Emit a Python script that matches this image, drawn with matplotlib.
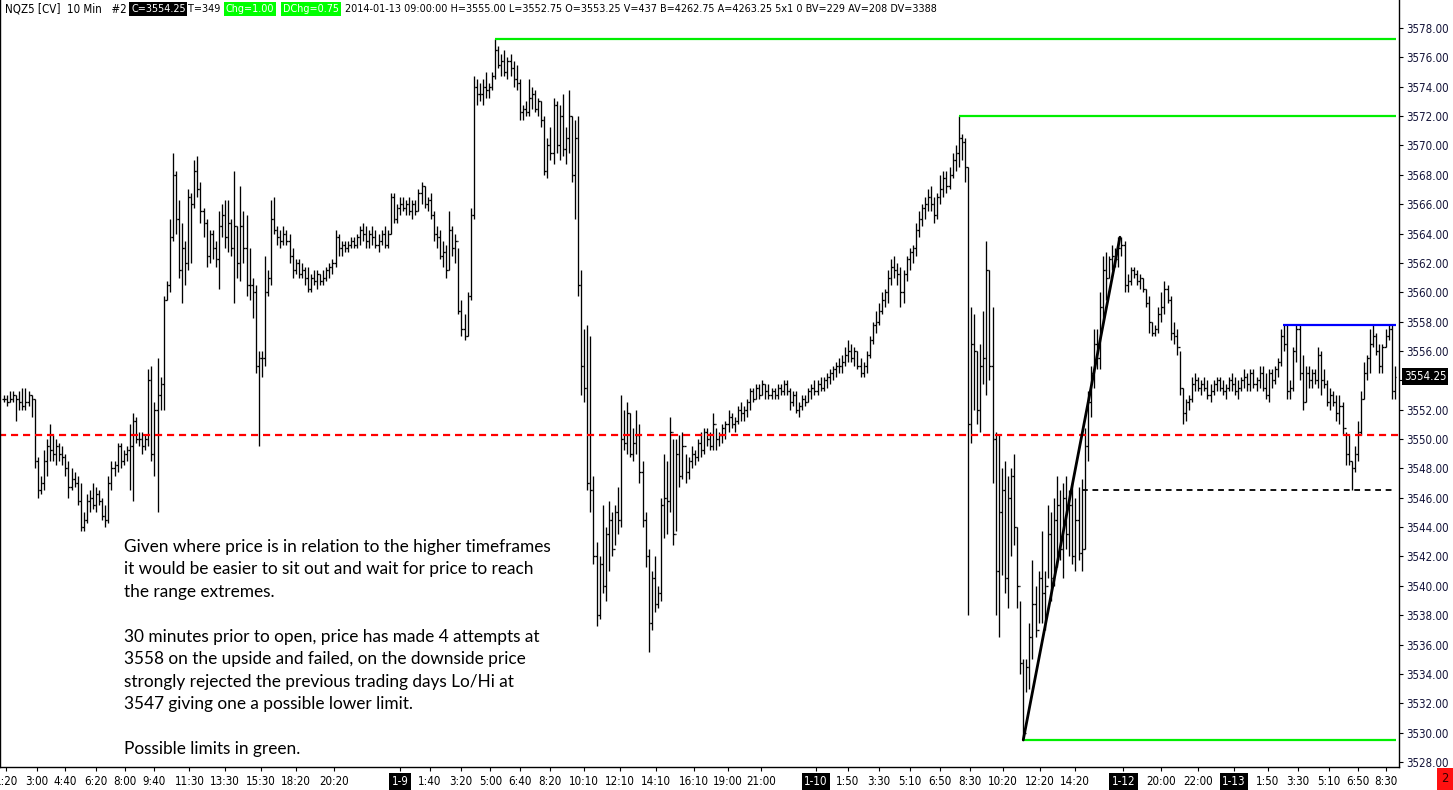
import numpy as np
import matplotlib
matplotlib.use("Agg")
import matplotlib.pyplot as plt
from matplotlib.collections import LineCollection
import matplotlib.transforms as mtransforms

# ---------------- data (10-minute NQ bars) ----------------
highs = [
 3553.0,3553.0,3553.25,3553.25,3553.0,3553.25,3553.5,3553.5,3553.25,3553.0,
 3552.75,3548.75,3547.5,3549.25,3550.0,3551.0,3550.25,3550.0,3549.75,3549.5,
 3549.0,3548.5,3548.0,3547.75,3547.5,3547.0,3545.0,3546.25,3546.5,3547.0,
 3546.75,3546.5,3546.0,3545.5,3547.5,3548.5,3548.5,3549.75,3549.75,3549.25,
 3549.5,3551.0,3551.75,3551.5,3550.5,3550.5,3550.25,3554.75,3555.0,3552.5,
 3555.5,3554.25,3559.75,3560.75,3565.0,3569.5,3568.25,3566.25,3564.75,3563.5,
 3567.0,3566.75,3569.0,3569.25,3567.5,3565.75,3565.0,3564.25,3564.25,3563.5,
 3565.5,3566.0,3566.25,3566.25,3565.0,3568.25,3564.5,3567.25,3565.5,3565.25,
 3563.0,3561.0,3560.5,3556.0,3556.0,3562.5,3561.5,3566.25,3566.5,3564.5,
 3564.25,3564.5,3564.25,3564.0,3563.0,3562.25,3562.25,3562.0,3561.75,3561.75,
 3561.25,3561.5,3561.5,3561.25,3561.5,3561.75,3562.0,3562.25,3564.25,3564.0,
 3563.5,3563.5,3563.5,3563.75,3563.75,3564.0,3564.5,3564.75,3564.5,3564.25,
 3564.5,3564.25,3564.0,3564.25,3564.5,3564.25,3566.75,3566.75,3566.0,3566.5,
 3566.5,3566.25,3566.5,3566.25,3566.25,3567.0,3567.5,3567.25,3566.5,3566.75,
 3565.5,3564.5,3564.25,3563.5,3563.25,3565.5,3564.5,3564.0,3563.0,3559.5,
 3558.5,3560.0,3565.75,3574.75,3574.5,3574.25,3574.5,3575.0,3574.25,3575.0,
 3577.25,3576.75,3576.25,3576.5,3576.0,3576.25,3575.75,3575.5,3574.5,3572.75,
 3573.0,3574.5,3574.0,3573.75,3573.25,3573.0,3572.0,3570.5,3571.25,3573.25,
 3573.0,3572.75,3573.5,3571.25,3573.75,3572.0,3571.75,3572.0,3561.5,3557.5,
 3557.75,3557.0,3547.5,3543.0,3542.0,3545.5,3544.0,3545.75,3545.0,3545.5,
 3546.75,3553.0,3552.0,3552.5,3551.75,3550.75,3552.0,3551.0,3548.5,3545.0,
 3542.5,3541.0,3542.0,3540.0,3546.0,3549.0,3548.5,3551.5,3550.0,3550.0,
 3550.25,3550.5,3549.0,3548.75,3549.5,3549.25,3550.0,3550.5,3550.75,3550.75,
 3550.5,3551.75,3550.75,3550.5,3551.0,3551.25,3552.0,3551.75,3551.5,3552.25,
 3552.5,3552.25,3552.75,3553.5,3553.5,3553.75,3553.75,3554.0,3553.75,3553.75,
 3553.5,3553.5,3553.75,3553.75,3554.0,3554.0,3553.5,3553.25,3553.25,3552.5,
 3553.0,3553.0,3553.5,3553.75,3554.0,3554.0,3554.25,3554.25,3554.5,3554.75,
 3555.0,3555.25,3555.5,3555.75,3556.25,3556.75,3556.5,3556.25,3556.0,3555.5,
 3555.25,3556.0,3557.0,3558.0,3558.75,3559.25,3560.0,3560.25,3561.5,3562.25,
 3562.5,3562.0,3561.75,3561.5,3562.5,3563.0,3563.25,3564.75,3565.5,3566.0,
 3566.5,3567.0,3567.25,3566.5,3566.75,3568.0,3568.25,3568.25,3568.5,3569.5,
 3570.0,3572.0,3570.75,3570.5,3568.5,3559.0,3558.5,3556.0,3556.5,3558.75,
 3563.5,3561.5,3559.0,3550.5,3550.25,3548.0,3548.5,3547.5,3548.0,3549.0,
 3544.0,3539.0,3535.0,3535.0,3537.5,3541.75,3540.0,3541.0,3543.75,3541.0,
 3545.5,3545.0,3546.0,3547.5,3546.5,3547.0,3547.5,3546.5,3547.0,3546.0,
 3546.75,3547.25,3550.75,3553.25,3555.0,3557.5,3557.5,3560.0,3562.5,3562.75,
 3562.5,3563.25,3563.0,3563.75,3563.75,3563.5,3561.25,3561.75,3561.75,3561.5,
 3561.25,3561.0,3560.25,3559.75,3558.0,3557.75,3559.0,3560.0,3560.75,3560.5,
 3559.75,3558.0,3557.5,3556.0,3553.5,3552.75,3553.0,3554.25,3554.5,3554.25,
 3554.0,3554.25,3554.0,3553.75,3554.0,3554.25,3554.25,3554.0,3553.75,3554.25,
 3554.5,3554.25,3554.0,3554.25,3554.75,3554.5,3554.75,3554.75,3554.25,3555.0,
 3555.0,3554.5,3554.75,3554.75,3555.0,3555.5,3557.5,3557.75,3557.75,3554.0,
 3556.25,3557.75,3557.75,3555.75,3555.0,3555.0,3554.75,3554.75,3556.25,3556.0,
 3554.75,3554.0,3553.5,3553.25,3553.0,3553.0,3552.5,3550.5,3550.25,3548.5,
 3549.5,3551.25,3553.25,3555.25,3555.75,3557.5,3557.75,3557.25,3556.5,3556.5,
 3557.5,3557.75,3557.75,3555.0]

lows = [
 3552.5,3552.25,3552.5,3552.5,3551.25,3552.0,3552.0,3552.0,3552.25,3551.5,
 3548.0,3546.0,3546.25,3546.5,3547.5,3548.5,3548.5,3548.25,3548.5,3548.25,
 3547.5,3546.0,3546.5,3546.75,3545.5,3543.75,3543.75,3544.25,3545.0,3545.25,
 3545.0,3545.5,3544.5,3544.0,3544.25,3546.5,3547.5,3547.75,3548.0,3548.25,
 3548.5,3546.5,3545.75,3549.75,3549.5,3549.0,3549.25,3549.5,3548.5,3547.5,
 3545.0,3552.0,3552.0,3559.5,3560.0,3563.5,3564.0,3561.0,3559.25,3560.5,
 3561.5,3562.0,3565.75,3566.5,3564.75,3563.75,3561.75,3562.0,3562.25,3561.75,
 3560.25,3563.75,3563.0,3562.75,3562.5,3559.25,3561.0,3560.75,3562.0,3559.75,
 3559.5,3558.25,3554.5,3549.5,3554.25,3555.0,3559.75,3560.5,3564.0,3563.25,
 3563.0,3563.25,3563.25,3562.0,3561.0,3561.25,3561.0,3561.0,3560.5,3560.0,
 3560.0,3560.5,3560.25,3560.5,3560.5,3560.75,3561.0,3561.25,3561.75,3562.5,
 3562.5,3562.75,3562.75,3563.0,3563.0,3563.0,3563.25,3563.5,3563.0,3563.0,
 3563.25,3563.0,3562.75,3563.25,3563.0,3563.0,3564.0,3564.75,3564.75,3565.25,
 3565.5,3565.25,3565.25,3565.0,3565.25,3565.5,3566.0,3565.75,3565.5,3565.0,
 3563.5,3563.0,3562.25,3561.75,3561.0,3561.5,3562.5,3562.0,3558.5,3557.0,
 3556.75,3557.0,3559.5,3565.0,3572.75,3573.0,3572.75,3573.25,3573.25,3573.75,
 3574.5,3575.25,3574.75,3574.75,3574.5,3574.75,3574.0,3573.75,3571.75,3571.75,
 3572.0,3572.0,3572.5,3572.25,3572.0,3571.25,3568.0,3567.75,3569.0,3568.75,
 3569.5,3569.0,3569.25,3568.75,3569.5,3567.5,3565.0,3559.75,3553.0,3552.5,
 3546.5,3545.0,3541.5,3537.25,3537.75,3539.5,3539.0,3541.0,3542.0,3542.75,
 3543.5,3544.0,3549.25,3549.0,3548.75,3548.5,3549.0,3547.0,3544.0,3541.25,
 3535.5,3537.0,3538.25,3538.5,3539.0,3543.25,3543.5,3545.0,3542.75,3543.75,
 3546.75,3547.25,3547.0,3547.25,3548.0,3548.25,3548.5,3548.75,3549.0,3549.5,
 3549.25,3549.25,3549.25,3549.5,3549.75,3550.0,3550.5,3550.75,3550.5,3551.0,
 3551.25,3551.25,3551.5,3552.0,3552.5,3552.75,3552.75,3553.0,3552.75,3552.75,
 3552.75,3552.75,3552.75,3553.0,3553.0,3553.0,3552.0,3552.25,3551.75,3551.5,
 3552.0,3552.25,3552.5,3552.75,3553.0,3553.0,3553.25,3553.25,3553.5,3553.75,
 3554.0,3554.25,3554.5,3554.5,3555.0,3555.25,3555.25,3555.0,3554.75,3554.25,
 3554.25,3554.5,3555.5,3556.5,3557.25,3557.75,3558.5,3559.0,3559.25,3560.5,
 3561.0,3560.5,3559.0,3559.25,3560.75,3561.5,3562.0,3562.5,3563.75,3564.5,
 3565.0,3565.5,3565.5,3564.75,3565.0,3566.0,3566.5,3566.75,3567.0,3567.75,
 3568.25,3568.5,3569.0,3567.5,3538.0,3549.75,3552.0,3551.0,3550.5,3553.75,
 3553.0,3554.0,3547.0,3538.0,3536.5,3540.75,3539.5,3538.5,3542.0,3542.75,
 3538.5,3534.0,3529.5,3532.75,3533.0,3535.0,3536.5,3537.5,3537.5,3537.0,
 3540.5,3539.0,3540.0,3541.25,3541.75,3540.5,3542.5,3542.0,3541.5,3541.0,
 3541.75,3541.0,3542.5,3548.5,3551.5,3553.5,3554.75,3554.75,3558.0,3559.5,
 3561.0,3561.5,3561.75,3561.75,3562.5,3560.0,3560.0,3560.5,3561.0,3560.5,
 3560.25,3560.0,3559.0,3557.25,3557.0,3557.0,3557.25,3558.0,3558.5,3559.25,
 3556.75,3556.5,3555.75,3553.0,3551.0,3551.25,3552.0,3552.5,3553.25,3553.25,
 3553.0,3553.25,3552.75,3552.5,3553.0,3553.25,3553.25,3553.0,3552.75,3553.25,
 3553.25,3553.0,3552.75,3553.25,3553.5,3553.25,3553.25,3553.5,3553.25,3553.5,
 3553.25,3552.75,3552.5,3553.5,3553.75,3554.25,3555.0,3556.0,3552.75,3552.75,
 3553.25,3555.25,3554.0,3552.0,3552.5,3553.5,3553.5,3553.75,3553.5,3553.0,
 3553.5,3552.25,3552.0,3552.25,3551.25,3551.0,3550.25,3548.25,3548.25,3546.5,
 3547.75,3548.5,3550.25,3552.75,3554.0,3554.5,3556.25,3555.75,3554.5,3554.5,
 3556.25,3556.75,3552.75,3552.75]

closes = [
 3552.75,3552.5,3552.75,3553.0,3552.75,3552.5,3552.25,3552.5,3553.0,3552.75,
 3548.5,3546.5,3547.0,3548.5,3549.5,3549.25,3549.0,3549.5,3549.0,3548.75,
 3548.0,3546.75,3547.25,3547.0,3545.75,3544.0,3544.5,3545.75,3546.0,3545.5,
 3546.25,3545.75,3544.75,3544.5,3547.0,3548.0,3548.25,3549.5,3548.5,3549.0,
 3549.25,3549.5,3551.25,3550.0,3550.0,3549.5,3550.0,3554.0,3549.0,3552.0,
 3553.0,3553.75,3559.5,3560.5,3563.75,3568.0,3565.0,3561.5,3563.0,3562.0,
 3566.5,3566.0,3568.25,3567.0,3565.5,3564.75,3562.5,3564.0,3563.0,3562.25,
 3564.5,3565.25,3563.75,3564.75,3563.0,3564.5,3562.0,3564.5,3563.0,3560.5,
 3560.5,3560.0,3555.0,3555.5,3555.5,3560.0,3561.0,3565.0,3564.25,3563.75,
 3563.5,3564.0,3563.5,3562.5,3561.5,3562.0,3561.25,3561.5,3561.0,3560.25,
 3561.0,3560.75,3561.25,3560.75,3561.0,3561.5,3561.75,3562.0,3563.75,3563.0,
 3563.25,3563.0,3563.25,3563.5,3563.25,3563.75,3564.25,3564.0,3563.5,3564.0,
 3563.75,3563.25,3563.5,3564.0,3563.25,3564.0,3566.5,3565.0,3565.75,3566.0,
 3565.75,3566.0,3565.5,3566.0,3565.5,3566.75,3567.25,3566.0,3566.25,3565.25,
 3564.0,3563.75,3562.5,3562.75,3561.5,3564.25,3563.0,3563.5,3558.75,3557.5,
 3557.0,3559.75,3565.25,3574.0,3573.5,3573.5,3574.0,3573.75,3574.0,3574.75,
 3576.5,3575.5,3575.75,3575.0,3575.75,3575.25,3574.5,3574.25,3572.25,3572.5,
 3572.25,3573.25,3573.5,3572.5,3573.0,3571.75,3568.25,3570.0,3569.5,3572.75,
 3570.0,3572.0,3569.75,3570.5,3572.0,3568.0,3570.5,3560.5,3555.0,3553.5,
 3547.0,3546.5,3542.0,3538.0,3541.5,3540.0,3543.5,3544.5,3542.5,3545.0,
 3544.5,3550.0,3549.75,3551.75,3549.0,3549.75,3550.25,3547.75,3544.5,3542.0,
 3537.5,3540.5,3538.75,3539.5,3545.5,3546.0,3545.75,3550.5,3543.5,3549.0,
 3547.5,3549.5,3547.75,3548.5,3549.0,3548.75,3549.75,3549.25,3550.5,3550.0,
 3549.5,3551.0,3550.0,3550.25,3550.75,3551.0,3551.5,3551.0,3551.25,3552.0,
 3551.75,3552.0,3552.5,3553.25,3552.75,3553.5,3553.0,3553.75,3553.25,3553.0,
 3553.25,3553.0,3553.5,3553.25,3553.75,3553.25,3552.5,3553.0,3552.0,3552.25,
 3552.75,3552.5,3553.25,3553.5,3553.25,3553.75,3553.5,3554.0,3554.25,3554.5,
 3554.75,3555.0,3555.0,3555.25,3555.75,3556.0,3555.5,3556.0,3555.0,3554.5,
 3555.0,3555.75,3556.75,3557.75,3558.0,3558.75,3559.5,3560.0,3561.0,3561.75,
 3561.5,3561.25,3560.0,3561.25,3562.25,3562.75,3563.0,3564.25,3565.0,3565.75,
 3566.0,3566.5,3566.0,3565.25,3566.5,3567.0,3567.75,3567.25,3568.0,3569.0,
 3569.5,3570.5,3570.25,3568.5,3551.0,3556.5,3556.0,3552.0,3555.0,3555.5,
 3561.5,3555.0,3550.0,3541.0,3545.0,3546.5,3540.5,3546.0,3547.5,3544.0,
 3540.0,3534.75,3530.0,3534.5,3536.5,3538.75,3537.0,3540.5,3539.5,3540.0,
 3543.5,3540.5,3544.5,3545.5,3542.5,3546.0,3543.5,3545.5,3542.0,3544.5,
 3542.25,3542.5,3549.5,3552.5,3554.5,3556.5,3555.5,3559.0,3561.5,3561.0,
 3562.25,3562.5,3562.25,3563.0,3563.25,3560.5,3560.75,3561.5,3561.25,3560.75,
 3561.0,3560.25,3559.25,3558.0,3557.25,3557.5,3558.5,3559.0,3560.25,3559.5,
 3557.25,3557.0,3556.25,3553.5,3551.75,3552.5,3552.75,3553.75,3554.0,3553.5,
 3553.75,3553.5,3553.0,3553.25,3553.75,3554.0,3553.5,3553.25,3553.5,3554.0,
 3553.75,3553.25,3553.5,3554.0,3554.25,3553.75,3554.5,3553.75,3554.0,3554.5,
 3553.5,3553.0,3554.5,3554.0,3554.75,3555.25,3557.0,3556.5,3553.25,3553.5,
 3556.0,3557.5,3554.5,3552.5,3554.5,3554.0,3554.5,3554.0,3555.75,3554.0,
 3553.75,3552.5,3553.0,3552.5,3551.75,3552.25,3550.75,3549.0,3548.5,3548.0,
 3549.0,3550.5,3552.75,3554.5,3555.5,3556.5,3557.0,3556.0,3555.0,3556.25,
 3557.0,3557.5,3553.25,3554.25]

last_open = 3553.25
price_ticks = list(range(3528, 3579, 2))
last_price = 3554.25
range_high = 3577.25      # green
prior_high = 3572.0       # green
range_low = 3529.5        # green
upside_test = 3557.75     # blue
prior_lohi = 3546.5       # black dashed
red_level = 3550.25       # red dashed

time_labels = ["1:20","3:00","4:40","6:20","8:00","9:40","11:30","13:30","15:30","18:20",
               "20:20","1-9","1:40","3:20","5:00","6:40","8:20","10:10","12:10","14:10",
               "16:10","19:00","21:00","1-10","1:50","3:30","5:10","6:50","8:30","10:20",
               "12:20","14:20","1-12","20:00","22:00","1-13","1:50","3:30","5:10","6:50","8:30"]
time_bars = [0.8,10.6,20.0,30.0,39.5,49.0,60.4,71.9,83.6,95.0,
             107.4,129.0,138.6,148.9,158.4,168.2,177.9,188.9,200.7,212.4,
             224.6,235.8,246.7,264.5,274.9,285.0,295.1,304.9,314.7,325.4,
             337.3,348.9,364.6,376.9,388.9,400.6,411.6,421.5,431.5,441.1,450.2]

header_plain1 = "NQZ5 [CV]  10 Min   #2"
header_close = "C=3554.25"
header_t = "T=349"
header_chg = "Chg=1.00"
header_dchg = "DChg=0.75"
header_rest = ("2014-01-13 09:00:00 H=3555.00 L=3552.75 O=3553.25 V=437 B=4262.75 "
               "A=4263.25 5x1 0 BV=229 AV=208 DV=3388")

note_lines = [
    "Given where price is in relation to the higher timeframes",
    "it would be easier to sit out and wait for price to reach",
    "the range extremes.",
    "",
    "30 minutes prior to open, price has made 4 attempts at",
    "3558 on the upside and failed, on the downside price",
    "strongly rejected the previous trading days Lo/Hi at",
    "3547 giving one a possible lower limit.",
    "",
    "Possible limits in green.",
]

# ---------------- figure ----------------
W, H = 1453, 790
fig = plt.figure(figsize=(W / 100, H / 100), dpi=100)
fig.patch.set_facecolor("white")
ax = fig.add_axes([0, 1 - 767 / H, 1399 / W, 767 / H])

n = len(closes)
opens = [closes[0]] + closes[:-1]
opens[-1] = last_open

segs = []
for i in range(n):
    segs.append([(i, lows[i]), (i, highs[i])])
    segs.append([(i - 0.5, opens[i]), (i, opens[i])])
    segs.append([(i, closes[i]), (i + 0.5, closes[i])])
ax.add_collection(LineCollection(segs, colors="black", linewidths=0.95, capstyle="butt"))

# levels
lw_lvl = 1.6
xr = n - 0.7
ax.plot([160, xr], [range_high] * 2, color="#00ee00", lw=lw_lvl, solid_capstyle="butt")
ax.plot([311, xr], [prior_high] * 2, color="#00ee00", lw=lw_lvl, solid_capstyle="butt")
ax.plot([332, xr], [range_low] * 2, color="#00ee00", lw=lw_lvl, solid_capstyle="butt")
ax.plot([416.5, xr], [upside_test] * 2, color="#0000ff", lw=lw_lvl, solid_capstyle="butt")
ax.plot([-2, n + 2], [red_level] * 2, color="#ff0000", lw=1.6, dashes=(3.2, 2.2))
ax.plot([351, xr], [prior_lohi] * 2, color="black", lw=1.3, dashes=(3.2, 2.6))
ax.plot([332, 363.5], [range_low, 3563.75], color="black", lw=2.0, solid_capstyle="round")

# axes limits
ppu = 14.68
ax.set_ylim(3578 - (767 - 28) / ppu, 3578 + 28 / ppu)
ax.set_xlim(-4 / 3.07, (1399 - 4) / 3.07)

ax.spines["top"].set_visible(False)
for s in ["left", "right", "bottom"]:
    ax.spines[s].set_linewidth(1.0)
    ax.spines[s].set_color("black")

axfont = dict(family="DejaVu Sans", stretch="condensed")
ax.yaxis.tick_right()
ax.set_yticks(price_ticks)
ylabels = ["" if abs(v - last_price) < 1.0 else f"{v:.2f}" for v in price_ticks]
ax.set_yticklabels(ylabels, fontdict=axfont)
ax.tick_params(axis="y", direction="out", length=3, width=0.8, labelsize=8.3,
               pad=2.5, colors="black", labelcolor="#15153a")
ax.set_xticks(time_bars)
ax.set_xticklabels(time_labels, fontdict=axfont)
ax.tick_params(axis="x", direction="out", length=3, width=0.8, labelsize=8.3, pad=3)
for lab in ax.get_xticklabels():
    if "-" in lab.get_text():
        lab.set_color("white")
        lab.set_bbox(dict(boxstyle="square,pad=0.22", fc="black", ec="none"))

# current price marker on axis
trans = mtransforms.blended_transform_factory(fig.transFigure, ax.transData)
fig.text(1404 / W, last_price, f"{last_price:.2f}", transform=trans, color="white",
         fontsize=8.3, va="center", ha="left", fontdict=axfont,
         bbox=dict(boxstyle="square,pad=0.15", fc="black", ec="none"))

# header
hy = 1 - 9 / H
hfont = dict(family="DejaVu Sans", stretch="condensed", size=7.75)
fig.text(5 / W, hy, header_plain1, va="center", ha="left",
         family="DejaVu Sans", stretch="condensed", size=8.3)
fig.text(131 / W, hy, header_close, va="center", ha="left", color="white",
         bbox=dict(boxstyle="square,pad=0.15", fc="black", ec="none"), **hfont)
fig.text(188 / W, hy, header_t, va="center", ha="left", **hfont)
fig.text(226 / W, hy, header_chg, va="center", ha="left", color="white",
         bbox=dict(boxstyle="square,pad=0.15", fc="#00ff00", ec="none"), **hfont)
fig.text(283 / W, hy, header_dchg, va="center", ha="left", color="white",
         bbox=dict(boxstyle="square,pad=0.15", fc="#00ff00", ec="none"), **hfont)
fig.text(345 / W, hy, header_rest, va="center", ha="left", **hfont)

# red marker bottom right
fig.text(1445 / W, 1 - 779 / H, "2", va="center", ha="center", color="#330000",
         fontsize=8.3, bbox=dict(boxstyle="square,pad=0.4", fc="#ff1010", ec="none"))

# annotation
for k, line in enumerate(note_lines):
    if line:
        fig.text(124 / W, 1 - (547 + 22.45 * k) / H, line, va="center", ha="left",
                 fontsize=12.4, family="Lato", color="black")

fig.savefig("out.png", dpi=100)
